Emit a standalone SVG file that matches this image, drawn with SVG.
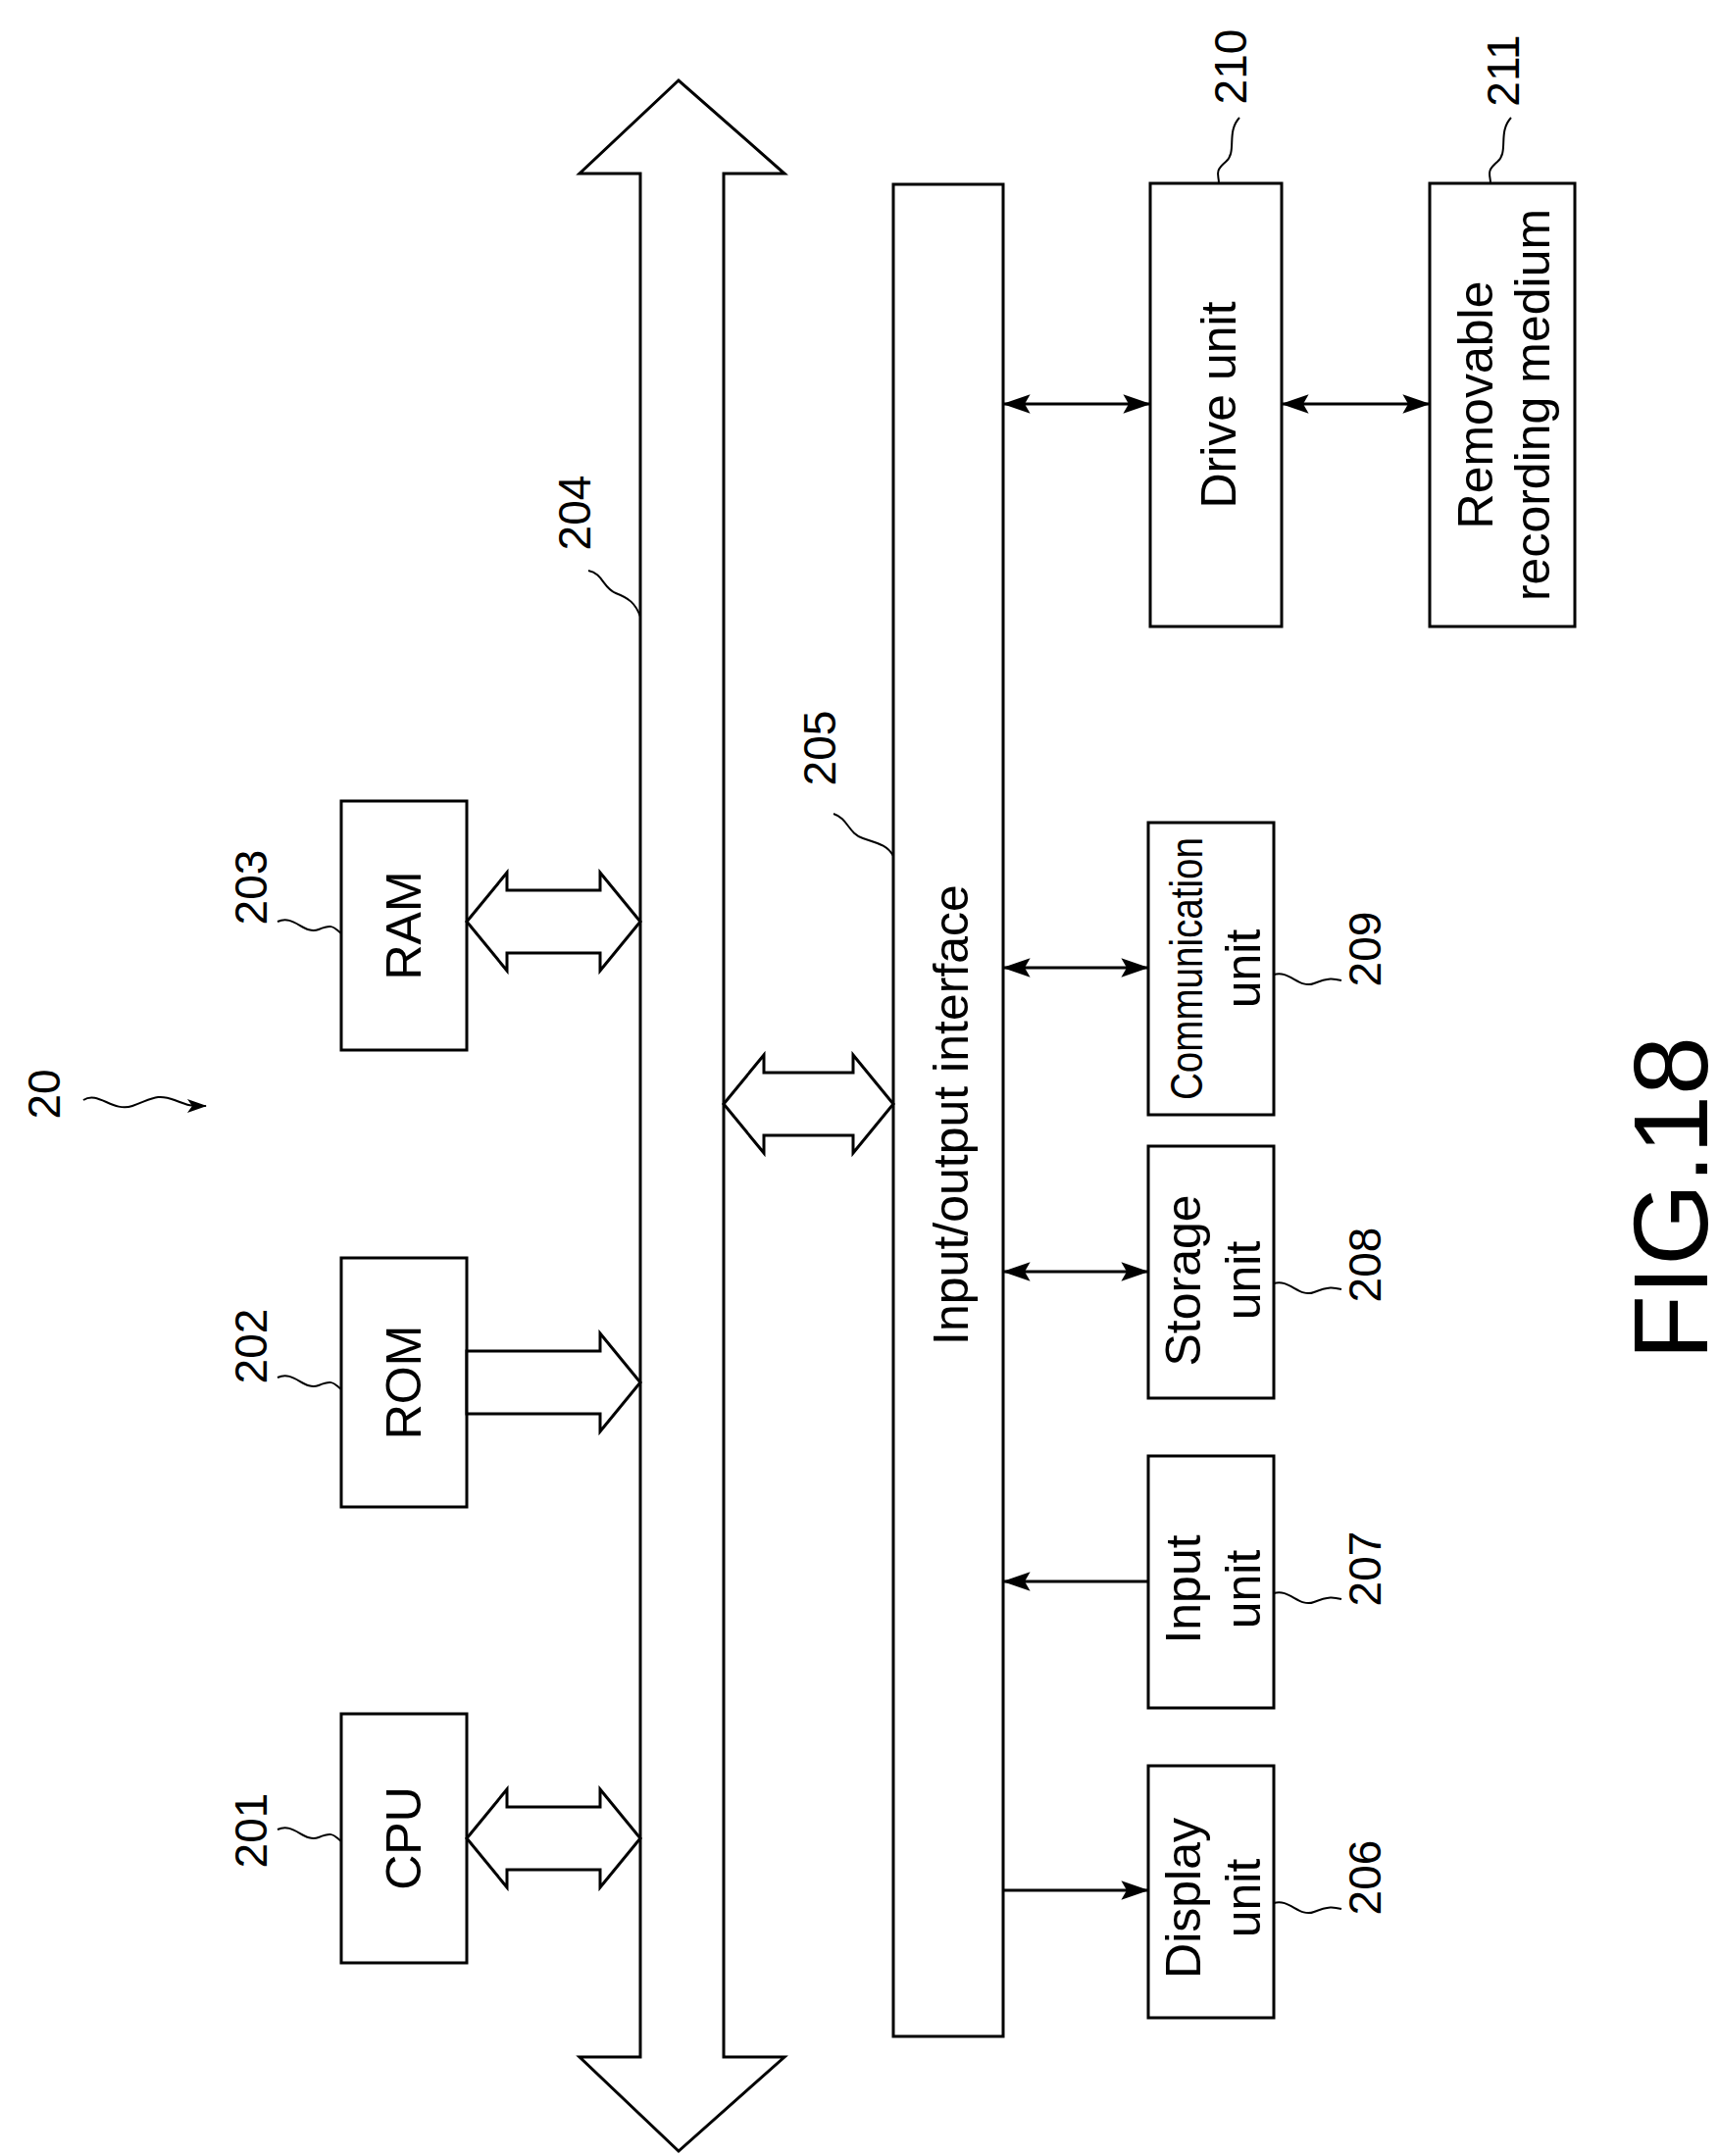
<svg xmlns="http://www.w3.org/2000/svg" width="1752" height="2199" viewBox="0 0 1752 2199">
<style>
.b{fill:#fff;stroke:#000;stroke-width:3}
.t{font-family:"Liberation Sans",Arial,sans-serif;font-size:50px;fill:#000;text-anchor:middle;dominant-baseline:central}
.s{font-size:46px}
.l{fill:none;stroke:#000;stroke-width:2}
.a{fill:none;stroke:#000;stroke-width:3}
.h{fill:#fff;stroke:#000;stroke-width:3;stroke-linejoin:miter}
</style>
<defs>
<marker id="m" viewBox="0 0 20 14" refX="19" refY="7" markerWidth="28" markerHeight="20" markerUnits="userSpaceOnUse" orient="auto-start-reverse"><path d="M0,0 L20,7 L0,14 L4,7 Z" fill="#000"/></marker>
<marker id="m2" viewBox="0 0 20 14" refX="19" refY="7" markerWidth="20" markerHeight="14" markerUnits="userSpaceOnUse" orient="auto"><path d="M0,0 L20,7 L0,14 L5,7 Z" fill="#000"/></marker>
</defs>
<g id="bus204"><path class="h" d="M653,177 L591,177 L692,82 L800,177 L738,177 L738,2098 L800,2098 L692,2194 L591,2098 L653,2098 Z"/></g>
<g id="cpu"><rect class="b" x="348" y="1748" width="128" height="254"/><text class="t" transform="translate(412,1875) rotate(-90)">CPU</text></g>
<g id="rom"><rect class="b" x="348" y="1283" width="128" height="254"/><text class="t" transform="translate(412,1410) rotate(-90)">ROM</text></g>
<g id="ram"><rect class="b" x="348" y="817" width="128" height="254"/><text class="t" transform="translate(412,944) rotate(-90)">RAM</text></g>
<g id="io"><rect class="b" x="911" y="188" width="112" height="1889"/><text class="t" transform="translate(970,1137) rotate(-90)">Input/output interface</text></g>
<g id="drive"><rect class="b" x="1173" y="187" width="134" height="452"/><text class="t" transform="translate(1243,413) rotate(-90)">Drive unit</text></g>
<g id="removable"><rect class="b" x="1458" y="187" width="148" height="452"/><text class="t" transform="translate(1505,413) rotate(-90)">Removable</text><text class="t" transform="translate(1563,413) rotate(-90)">recording medium</text></g>
<g id="comm"><rect class="b" x="1171" y="839" width="128" height="298"/><text class="t" style="font-size:46px" textLength="268" lengthAdjust="spacingAndGlyphs" transform="translate(1210,988) rotate(-90)">Communication</text><text class="t" transform="translate(1268,988) rotate(-90)">unit</text></g>
<g id="storage"><rect class="b" x="1171" y="1169" width="128" height="257"/><text class="t" transform="translate(1207,1306) rotate(-90)">Storage</text><text class="t" transform="translate(1268,1306) rotate(-90)">unit</text></g>
<g id="input"><rect class="b" x="1171" y="1485" width="128" height="257"/><text class="t" transform="translate(1207,1621) rotate(-90)">Input</text><text class="t" transform="translate(1268,1621) rotate(-90)">unit</text></g>
<g id="display"><rect class="b" x="1171" y="1801" width="128" height="257"/><text class="t" transform="translate(1207,1936) rotate(-90)">Display</text><text class="t" transform="translate(1268,1936) rotate(-90)">unit</text></g>
<g id="connectors">
<path class="h" d="M476,1875 L517,1825 L517,1843 L612,1843 L612,1825 L653,1875 L612,1925 L612,1907 L517,1907 L517,1925 Z"/>
<path class="h" d="M476,1378 L612,1378 L612,1360 L653,1410 L612,1460 L612,1442 L476,1442 Z"/>
<path class="h" d="M476,940 L517,890 L517,908 L612,908 L612,890 L653,940 L612,990 L612,972 L517,972 L517,990 Z"/>
<path class="h" d="M738,1126 L779,1076 L779,1094 L870,1094 L870,1076 L911,1126 L870,1176 L870,1158 L779,1158 L779,1176 Z"/>
<line class="a" x1="1024" y1="412" x2="1172" y2="412" marker-start="url(#m)" marker-end="url(#m)"/>
<line class="a" x1="1308" y1="412" x2="1457" y2="412" marker-start="url(#m)" marker-end="url(#m)"/>
<line class="a" x1="1024" y1="987" x2="1170" y2="987" marker-start="url(#m)" marker-end="url(#m)"/>
<line class="a" x1="1024" y1="1297" x2="1170" y2="1297" marker-start="url(#m)" marker-end="url(#m)"/>
<line class="a" x1="1170" y1="1613" x2="1024" y2="1613" marker-end="url(#m)"/>
<line class="a" x1="1024" y1="1928" x2="1170" y2="1928" marker-end="url(#m)"/>
<path class="l" d="M283,1866 C300,1858 310,1880 325,1874 S340,1872 348,1878"/>
<path class="l" d="M283,1405 C300,1397 310,1419 325,1413 S340,1411 348,1417"/>
<path class="l" d="M283,940 C300,932 310,954 325,948 S340,946 348,952"/>
<path class="l" d="M600,582 C615,585 615,600 628,605 S648,615 653,629"/>
<path class="l" d="M850,830 C865,835 865,850 880,855 S905,862 911,873"/>
<path class="l" d="M1299,1941 C1315,1936 1325,1956 1340,1950 S1360,1945 1368,1947"/>
<path class="l" d="M1299,1625 C1315,1620 1325,1640 1340,1634 S1360,1629 1368,1631"/>
<path class="l" d="M1299,1309 C1315,1304 1325,1324 1340,1318 S1360,1313 1368,1315"/>
<path class="l" d="M1299,994 C1315,989 1325,1009 1340,1003 S1360,998 1368,1000"/>
<path class="l" d="M1264,120 C1250,135 1262,155 1250,165 S1243,178 1243,187"/>
<path class="l" d="M1541,120 C1527,135 1539,155 1527,165 S1520,178 1520,187"/>
<path class="l" d="M85,1122 C100,1112 115,1135 135,1128 S160,1115 178,1122 S195,1128 210,1128" marker-end="url(#m2)"/>
</g>
<g id="labels">
<text class="t s" transform="translate(256,1867) rotate(-90)">201</text>
<text class="t s" transform="translate(256,1373) rotate(-90)">202</text>
<text class="t s" transform="translate(256,905) rotate(-90)">203</text>
<text class="t s" transform="translate(586,523) rotate(-90)">204</text>
<text class="t s" transform="translate(836,763) rotate(-90)">205</text>
<text class="t s" transform="translate(1392,1915) rotate(-90)">206</text>
<text class="t s" transform="translate(1392,1600) rotate(-90)">207</text>
<text class="t s" transform="translate(1392,1290) rotate(-90)">208</text>
<text class="t s" transform="translate(1392,968) rotate(-90)">209</text>
<text class="t s" transform="translate(1255,68) rotate(-90)">210</text>
<text class="t s" transform="translate(1533,72) rotate(-90)">211</text>
<text class="t s" transform="translate(45,1116) rotate(-90)">20</text>
<text class="t" style="font-size:108px" transform="translate(1703,1222) rotate(-90)">FIG.18</text>
</g>
</svg>
